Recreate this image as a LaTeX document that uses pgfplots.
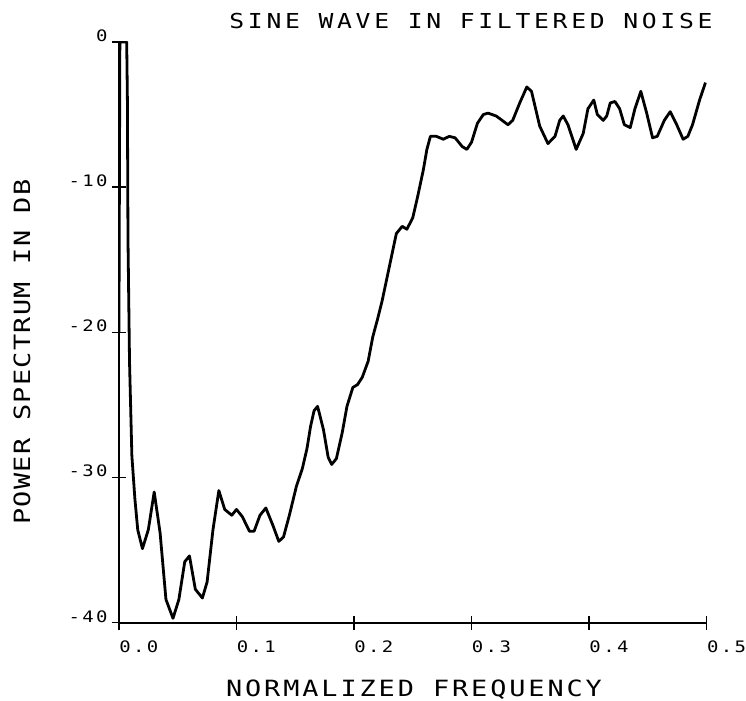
\documentclass[border=0pt]{standalone}
\usepackage{fontspec}
\usepackage{pgfplots}
\pgfplotsset{compat=1.18}
\newfontfamily\plotfont[FakeStretch=1.2]{DejaVu Sans Mono}

\pgfplotstableread{
f      db
0.0000 -20.0
0.0008 0.0
0.0066 0.0
0.0072 -4.0
0.0077 -13.6
0.0090 -22.0
0.0110 -28.5
0.0136 -31.5
0.0160 -33.6
0.0200 -34.9
0.0250 -33.6
0.0300 -31.0
0.0350 -33.8
0.0400 -38.4
0.0460 -39.7
0.0510 -38.4
0.0560 -35.8
0.0600 -35.4
0.0650 -37.7
0.0710 -38.3
0.0750 -37.2
0.0800 -33.6
0.0850 -30.9
0.0900 -32.2
0.0960 -32.6
0.1000 -32.2
0.1050 -32.7
0.1110 -33.7
0.1150 -33.7
0.1200 -32.6
0.1250 -32.1
0.1310 -33.3
0.1360 -34.4
0.1400 -34.1
0.1450 -32.6
0.1510 -30.6
0.1560 -29.4
0.1600 -28.0
0.1630 -26.5
0.1660 -25.4
0.1690 -25.1
0.1740 -26.7
0.1780 -28.6
0.1810 -29.1
0.1850 -28.7
0.1900 -26.9
0.1940 -25.1
0.1990 -23.8
0.2030 -23.6
0.2070 -23.1
0.2120 -22.0
0.2160 -20.3
0.2200 -19.1
0.2240 -17.8
0.2300 -15.5
0.2360 -13.2
0.2410 -12.7
0.2450 -12.9
0.2500 -12.1
0.2540 -10.7
0.2590 -8.8
0.2620 -7.4
0.2650 -6.5
0.2700 -6.5
0.2760 -6.7
0.2810 -6.5
0.2860 -6.6
0.2920 -7.2
0.2960 -7.4
0.3000 -6.9
0.3050 -5.6
0.3100 -5.0
0.3140 -4.9
0.3210 -5.1
0.3310 -5.7
0.3350 -5.4
0.3410 -4.2
0.3470 -3.1
0.3510 -3.4
0.3580 -5.8
0.3650 -7.0
0.3710 -6.5
0.3750 -5.4
0.3780 -5.1
0.3820 -5.7
0.3890 -7.4
0.3950 -6.3
0.3990 -4.6
0.4040 -4.0
0.4070 -5.0
0.4120 -5.4
0.4150 -5.1
0.4180 -4.2
0.4220 -4.1
0.4260 -4.6
0.4300 -5.7
0.4350 -5.9
0.4390 -4.6
0.4440 -3.4
0.4490 -4.9
0.4540 -6.6
0.4580 -6.5
0.4640 -5.4
0.4690 -4.8
0.4740 -5.6
0.4800 -6.7
0.4840 -6.5
0.4880 -5.7
0.4940 -4.0
0.4990 -2.8
}\spectrum

\begin{document}
\begin{tikzpicture}
\begin{axis}[
  name=main,
  scale only axis,
  width=294pt, height=290.5pt,
  xmin=0, xmax=0.5, ymin=-40, ymax=0,
  axis x line=bottom, axis y line=left,
  axis line style={-, line width=1pt},
  xtick={0,0.1,0.2,0.3,0.4,0.5},
  xticklabels={0.0,0.1,0.2,0.3,0.4,0.5},
  ytick={-40,-30,-20,-10,0},
  yticklabels={-40,-30,-20,-10,0},
  tick align=center, major tick length=7pt,
  tick style={line width=0.8pt, black},
  xticklabel style={font=\plotfont\fontsize{7.9pt}{9pt}\selectfont\addfontfeature{LetterSpace=15}, anchor=north west, inner sep=0pt, yshift=-5.5pt},
  yticklabel style={font=\plotfont\fontsize{7.9pt}{9pt}\selectfont\addfontfeature{LetterSpace=15}, anchor=south east, inner sep=0pt, xshift=-2pt},
  title={SINE WAVE IN FILTERED NOISE},
  title style={font=\plotfont\fontsize{10.3pt}{12pt}\selectfont\addfontfeature{LetterSpace=18}, at={(axis description cs:0.599,1)}, anchor=base, yshift=0.5pt, inner sep=0pt},
  xlabel={NORMALIZED FREQUENCY},
  xlabel style={font=\plotfont\fontsize{11.2pt}{13pt}\selectfont\addfontfeature{LetterSpace=13}, at={(axis description cs:0.502,0)}, anchor=base, yshift=-37pt, inner sep=0pt},
  ylabel={POWER SPECTRUM IN DB},
  ylabel style={font=\plotfont\fontsize{11.2pt}{13pt}\selectfont\addfontfeature{LetterSpace=6}, at={(axis description cs:-0.165,0.466)}, anchor=center, inner sep=0pt},
]
\addplot[black, line width=1.4pt, line join=round, no markers] table[x=f, y=db] {\spectrum};
\end{axis}
\path (main.south west) ++(-59.5pt,-39pt) rectangle ++(373pt,350.5pt);
\end{tikzpicture}
\end{document}
